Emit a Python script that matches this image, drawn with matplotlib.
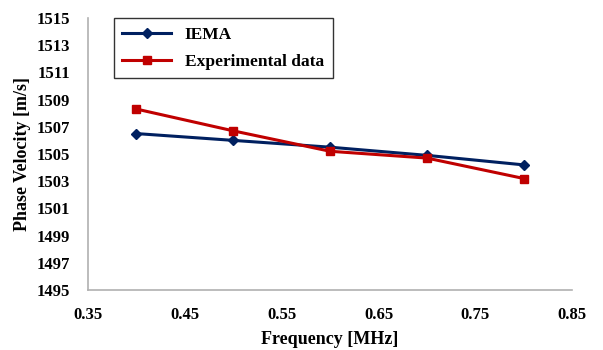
import matplotlib.pyplot as plt

# data
freq = [0.4, 0.5, 0.6, 0.7, 0.8]
iema = [1506.5, 1506.0, 1505.5, 1504.9, 1504.2]
experimental = [1508.3, 1506.7, 1505.2, 1504.7, 1503.2]
xticks = [0.35, 0.45, 0.55, 0.65, 0.75, 0.85]
yticks = list(range(1495, 1516, 2))

plt.rcParams['font.family'] = ['Liberation Serif', 'DejaVu Serif']
plt.rcParams['font.weight'] = 'bold'

fig = plt.figure(figsize=(6.03, 3.5), dpi=100)
ax = fig.add_axes([0.146, 0.171, 0.803, 0.778])

ax.plot(freq, iema, color='#002060', marker='D', markersize=5, linewidth=2.2, label='IEMA')
ax.plot(freq, experimental, color='#C00000', marker='s', markersize=6, linewidth=2.2,
        label='Experimental data')

ax.set_xlim(0.35, 0.85)
ax.set_ylim(1495, 1515)
ax.set_xticks(xticks)
ax.set_xticklabels([f'{t:.2f}' for t in xticks])
ax.set_yticks(yticks)
ax.tick_params(axis='y', length=0, labelsize=12, pad=13)
ax.tick_params(axis='x', length=0, labelsize=12, pad=12)

for s in ['top', 'right']:
    ax.spines[s].set_visible(False)
for s in ['left', 'bottom']:
    ax.spines[s].set_color('#b0b0b0')
    ax.spines[s].set_linewidth(1.2)

ax.set_xlabel('Frequency [MHz]', fontsize=13, fontweight='bold', labelpad=6)
ax.set_ylabel('Phase Velocity [m/s]', fontsize=13, fontweight='bold', labelpad=4)

leg = ax.legend(loc='upper left', bbox_to_anchor=(0.035, 1.03), fontsize=12.5, frameon=True,
                fancybox=False, edgecolor='black', handlelength=2.8, borderpad=0.5,
                labelspacing=0.6)
leg.get_frame().set_linewidth(1.0)

fig.savefig('out.png', dpi=100)
